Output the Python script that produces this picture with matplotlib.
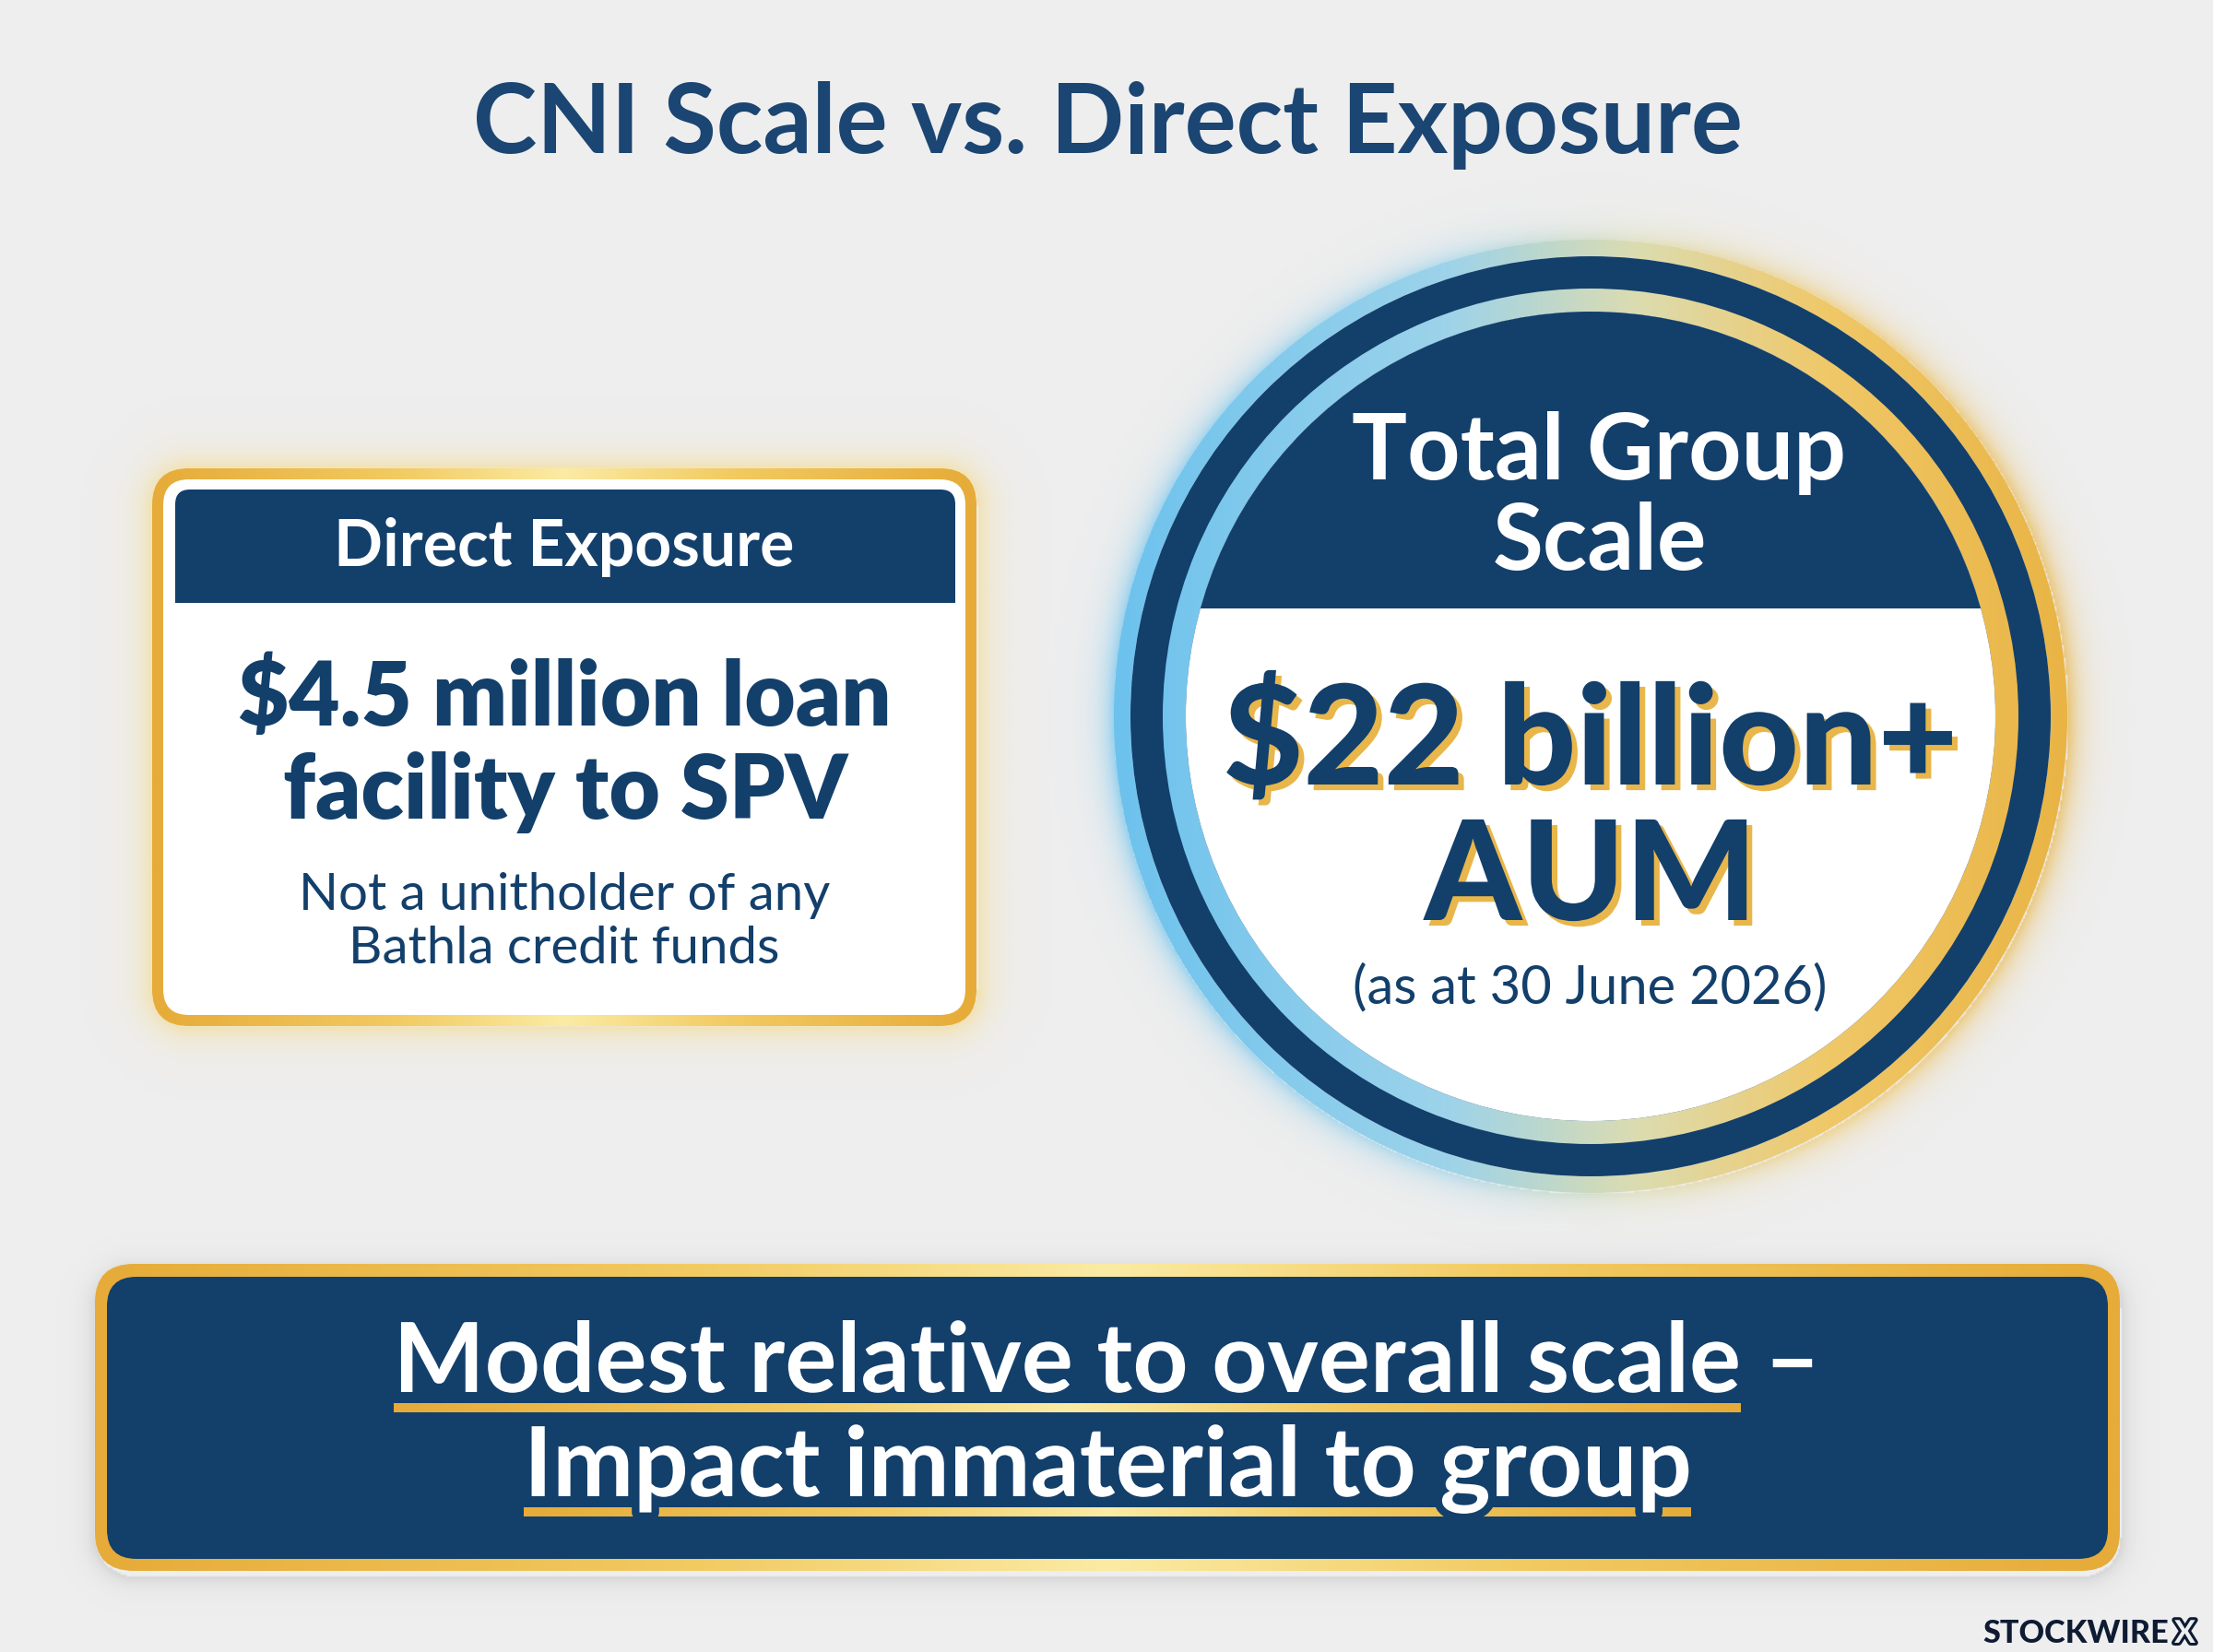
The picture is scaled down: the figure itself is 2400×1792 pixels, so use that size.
import numpy as np
import matplotlib
matplotlib.use('Agg')
import matplotlib.pyplot as plt
from matplotlib.patches import FancyBboxPatch, Circle, Wedge, Rectangle
import matplotlib.patheffects as pe
from matplotlib.colors import to_rgb

plt.rcParams['font.family'] = ['Lato', 'DejaVu Sans']

# ---- text content ----
title = 'CNI Scale vs. Direct Exposure'
card_header = 'Direct Exposure'
card_amount = ['$4.5 million loan', 'facility to SPV']
card_note = ['Not a unitholder of any', 'Bathla credit funds']
circle_header = ['Total Group', 'Scale']
circle_amount = ['$22 billion+', 'AUM']
circle_note = '(as at 30 June 2026)'
banner_lines = ['Modest relative to overall scale \u2013', 'Impact immaterial to group']
banner_underlined = ['Modest relative to overall scale', 'Impact immaterial to group']
brand = 'STOCKWIRE'

NAVY = '#133f6b'
TITLE_C = '#1b4572'
BG = '#eeeeee'
GOLD_STOPS = [(0, '#e6ab38'), (0.3, '#f2cb62'), (0.5, '#fbeba4'), (0.7, '#f2cb62'), (1, '#e6ab38')]
RING_STOPS = [(0, '#6cc2ee'), (0.35, '#9dd3ea'), (0.55, '#dcdcb0'), (0.75, '#f0c868'), (1, '#e9b444')]

W, H = 2400, 1792
fig = plt.figure(figsize=(12, 8.96), dpi=200)
fig.patch.set_facecolor(BG)
ax = fig.add_axes([0, 0, 1, 1])
ax.set_xlim(0, W)
ax.set_ylim(H, 0)
ax.axis('off')
renderer = fig.canvas.get_renderer()


def hgrad(stops, t):
    pos = [p for p, _ in stops]
    cols = np.array([to_rgb(c) for _, c in stops])
    return np.stack([np.interp(t, pos, cols[:, i]) for i in range(3)], axis=-1)


def grad_fill(clip, x0, x1, y0, y1, stops, zorder):
    img = hgrad(stops, np.linspace(0, 1, 600))[None, :, :]
    im = ax.imshow(img, extent=[x0, x1, y1, y0], aspect='auto',
                   interpolation='bilinear', zorder=zorder)
    clip.set_transform(ax.transData)
    im.set_clip_path(clip)


def rbox_dist(X, Y, x0, x1, y0, y1, r):
    cx, cy = (x0 + x1) / 2, (y0 + y1) / 2
    hx, hy = (x1 - x0) / 2 - r, (y1 - y0) / 2 - r
    qx = np.abs(X - cx) - hx
    qy = np.abs(Y - cy) - hy
    out = np.hypot(np.clip(qx, 0, None), np.clip(qy, 0, None))
    return out + np.minimum(np.maximum(qx, qy), 0) - r


def glow(x0, x1, y0, y1, dist, rgb, width, amax, zorder):
    xs = np.arange(x0, x1, 2.0)
    ys = np.arange(y0, y1, 2.0)
    X, Y = np.meshgrid(xs, ys)
    d = dist(X, Y)
    rgba = np.zeros(X.shape + (4,))
    rgba[..., :3] = rgb(X, Y)
    rgba[..., 3] = np.where(d > 0, amax * np.exp(-d / width), 0)
    ax.imshow(rgba, extent=[x0, x1, y1, y0], aspect='auto',
              interpolation='bilinear', zorder=zorder)


def fit_text(x, y, s, width, size0=40, **kw):
    t = ax.text(x, y, s, fontsize=size0, **kw)
    w = t.get_window_extent(renderer).width
    t.set_fontsize(size0 * width / w)
    return t


# ---- title ----
fit_text(1201, 166, title, 1378, ha='center', va='baseline',
         color=TITLE_C, fontweight='bold', zorder=10)

# ---- left card ----
cx0, cx1, cy0, cy1 = 165, 1059, 508, 1113
glow(cx0 - 80, cx1 + 80, cy0 - 80, cy1 + 80,
     lambda X, Y: rbox_dist(X, Y, cx0, cx1, cy0, cy1, 40),
     lambda X, Y: np.broadcast_to(np.array(to_rgb('#f6d77c')), X.shape + (3,)),
     16, 0.55, 1)
outer = FancyBboxPatch((cx0 + 40, cy0 + 40), cx1 - cx0 - 80, cy1 - cy0 - 80,
                       boxstyle='round,pad=40')
grad_fill(outer, cx0, cx1, cy0, cy1, GOLD_STOPS, 2)
ax.add_patch(FancyBboxPatch((177 + 28, 520 + 28), 1047 - 177 - 56, 1101 - 520 - 56,
                            boxstyle='round,pad=28', fc='white', ec='none', zorder=3))
ax.add_patch(FancyBboxPatch((190 + 16, 531 + 16), 1036 - 190 - 32, 654 - 531 - 32,
                            boxstyle='round,pad=16', fc=NAVY, ec='none', zorder=4))
ax.add_patch(Rectangle((190, 600), 1036 - 190, 54, fc=NAVY, ec='none', zorder=4))

fit_text(612, 614, card_header, 499, ha='center', va='baseline',
         color='white', fontweight='bold', zorder=10)
t = fit_text(612, 787, card_amount[0], 710, ha='center', va='baseline',
             color=NAVY, fontweight='heavy', zorder=10)
ax.text(613, 888, card_amount[1], fontsize=t.get_fontsize(), ha='center', va='baseline',
        color=NAVY, fontweight='heavy', zorder=10)
t = fit_text(612, 987, card_note[0], 576, ha='center', va='baseline',
             color=NAVY, fontweight='normal', zorder=10)
ax.text(612, 1045, card_note[1], fontsize=t.get_fontsize(), ha='center', va='baseline',
        color=NAVY, fontweight='normal', zorder=10)

# ---- circle ----
ccx, ccy, R = 1725, 777, 517
glow(ccx - R - 90, ccx + R + 90, ccy - R - 90, ccy + R + 90,
     lambda X, Y: np.hypot(X - ccx, Y - ccy) - R,
     lambda X, Y: hgrad(RING_STOPS, np.clip((X - (ccx - R)) / (2 * R), 0, 1)),
     14, 0.7, 1)
ring1 = Wedge((ccx, ccy), R, 0, 360, width=18)
grad_fill(ring1, ccx - R, ccx + R, ccy - R, ccy + R, RING_STOPS, 2)
ax.add_patch(Circle((ccx, ccy), R - 18, fc=NAVY, ec='none', zorder=3))
ring2 = Wedge((ccx, ccy), 464, 0, 360, width=25)
grad_fill(ring2, ccx - R, ccx + R, ccy - R, ccy + R, RING_STOPS, 4)
disk = Circle((ccx, ccy), 439, fc='white', ec='none', zorder=4)
ax.add_patch(disk)
cap = Rectangle((ccx - 450, ccy - 450), 900, 660 - (ccy - 450), fc=NAVY, ec='none', zorder=5)
ax.add_patch(cap)
cap.set_clip_path(disk)

t = fit_text(1734, 520, circle_header[0], 536, ha='center', va='baseline',
             color='white', fontweight='bold', zorder=10)
ax.text(1735, 618, circle_header[1], fontsize=t.get_fontsize(), ha='center', va='baseline',
        color='white', fontweight='bold', zorder=10)
shadow = [pe.withSimplePatchShadow(offset=(2.2, -2.2), shadow_rgbFace='#e8b64a', alpha=1)]
t = fit_text(1725, 851, circle_amount[0], 799, ha='center', va='baseline',
             color=NAVY, fontweight='black', zorder=10, path_effects=shadow)
ax.text(1725, 998, circle_amount[1], fontsize=t.get_fontsize(), ha='center', va='baseline',
        color=NAVY, fontweight='black', zorder=10, path_effects=shadow)
fit_text(1724, 1088, circle_note, 515, ha='center', va='baseline',
         color=NAVY, fontweight='normal', zorder=10)

# ---- bottom banner ----
bx0, bx1, by0, by1 = 103, 2299, 1371, 1704
glow(bx0 - 60, bx1 + 60, by0 - 60, by1 + 60,
     lambda X, Y: rbox_dist(X, Y, bx0, bx1, by0 + 6, by1 + 6, 42),
     lambda X, Y: np.broadcast_to(np.array(to_rgb('#9a9a9a')), X.shape + (3,)),
     10, 0.3, 1)
bout = FancyBboxPatch((bx0 + 42, by0 + 42), bx1 - bx0 - 84, by1 - by0 - 84,
                      boxstyle='round,pad=42')
grad_fill(bout, bx0, bx1, by0, by1, GOLD_STOPS, 2)
ax.add_patch(FancyBboxPatch((116 + 32, 1385 + 32), 2286 - 116 - 64, 1691 - 1385 - 64,
                            boxstyle='round,pad=32', fc=NAVY, ec='none', zorder=3))

cut = [pe.Stroke(linewidth=6, foreground=NAVY), pe.Normal()]
t1 = fit_text(1200, 1510, banner_lines[0], 1549, ha='center', va='baseline',
              color='white', fontweight='bold', zorder=10, path_effects=cut)
fs = t1.get_fontsize()
t2 = ax.text(1201, 1623, banner_lines[1], fontsize=fs, ha='center', va='baseline',
             color='white', fontweight='bold', zorder=10, path_effects=cut)
for tt, sub, base in [(t1, banner_underlined[0], 1510), (t2, banner_underlined[1], 1623)]:
    bb = tt.get_window_extent(renderer)
    tmp = ax.text(0, 0, sub, fontsize=fs, fontweight='bold')
    sw = tmp.get_window_extent(renderer).width
    tmp.remove()
    ul = Rectangle((bb.x0, base + 12), sw, 10)
    grad_fill(ul, bb.x0, bb.x0 + sw, base + 12, base + 22, GOLD_STOPS, 8)

# ---- watermark ----
wt = fit_text(2150, 1782, brand, 202, ha='left', va='baseline',
              color='#0e1b33', fontweight='black', zorder=10)
ax.text(2358, 1782, 'X', fontsize=wt.get_fontsize(), ha='left', va='baseline',
        color=BG, fontweight='bold', zorder=10,
        path_effects=[pe.Stroke(linewidth=2.2, foreground='#0e1b33'), pe.Normal()])

ax.set_xlim(0, W)
ax.set_ylim(H, 0)
fig.savefig('out.png', dpi=200, facecolor=BG)
